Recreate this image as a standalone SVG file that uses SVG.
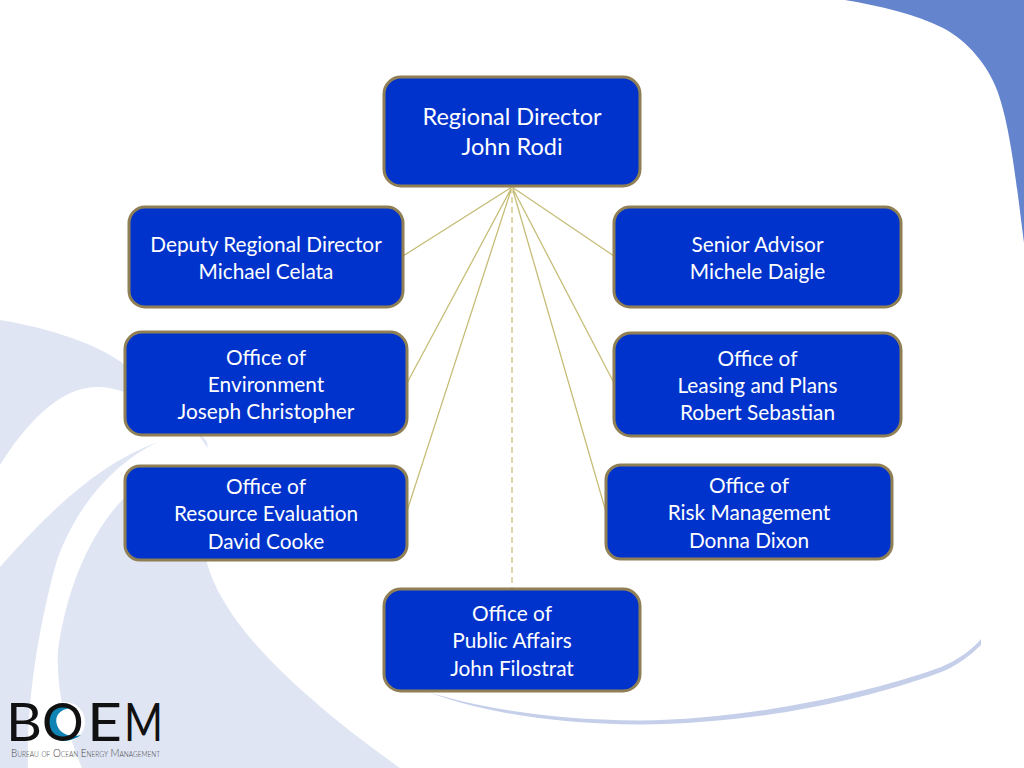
<svg xmlns="http://www.w3.org/2000/svg" width="1024" height="768" viewBox="0 0 1024 768">
<style>
.n{fill:#0033cc;stroke:#8f7f55;stroke-width:3}
.t{font-family:Lato,"Open Sans",sans-serif;font-size:20.8px;fill:#fff;text-anchor:middle}
.b{font-size:23.500px}
.c{stroke:#c6bd78;stroke-width:1.3;fill:none}
.d{stroke:#ddd7ab;stroke-width:2;stroke-dasharray:6 4;fill:none}
.l{font-family:Lato,"Liberation Sans",sans-serif;font-weight:400;font-size:52px;fill:#111}
</style>
<rect width="1024" height="768" fill="#fff"/>
<g id="background">
<path d="M845,0C880,6 915,14 943,28C968,41 988,66 997,90C1010,125 1016,180 1024,243V0Z" fill="#6484cd"/>
<path d="M0,320C50,328 100,345 125,365C160,385 190,420 207,442L210,466L207,563C222,620 290,690 400,768H0Z" fill="#dfe5f3"/>
<path d="M0,465C25,425 60,385 100,387C130,389 170,410 201,438L204,443L225,470V490L125,497C90,533 67,587 58,650C56,690 66,730 82,768H28C26,700 40,620 57,560C75,510 110,465 158,442C100,463 50,510 0,567Z" fill="#fff"/>
<path d="M428,692C470,705 540,720 640,720.500C740,720 860,696 940,667.500C958,660 972,650 981,639L981,645C970,656 955,667 940,672.500C860,702 750,724 640,724.500C540,724 470,708 428,692Z" fill="#c5cfea"/>
</g>
<g id="connectors">
<path class="c" d="M512,187L403,256M512,187L407,383M512,187L407,511M512,187L614,256M512,187L614,383M512,187L606,512"/>
<path class="d" d="M512,187V589"/>
</g>
<g id="regional-director"><rect class="n" x="384" y="77" width="256" height="109" rx="17"/><text class="t b" x="512" y="125">Regional Director</text><text class="t b" x="512" y="155">John Rodi</text></g>
<g id="deputy-director"><rect class="n" x="129" y="207" width="274" height="100" rx="16"/><text class="t" x="266" y="252">Deputy Regional Director</text><text class="t" x="266" y="279">Michael Celata</text></g>
<g id="senior-advisor"><rect class="n" x="614" y="207" width="287" height="100" rx="16"/><text class="t" x="757.500" y="252">Senior Advisor</text><text class="t" x="757.500" y="279">Michele Daigle</text></g>
<g id="office-environment"><rect class="n" x="125" y="332" width="282" height="103" rx="17"/><text class="t" x="266" y="365">Office of</text><text class="t" x="266" y="392">Environment</text><text class="t" x="266" y="419">Joseph Christopher</text></g>
<g id="office-leasing"><rect class="n" x="614" y="333" width="287" height="103" rx="17"/><text class="t" x="757.500" y="366">Office of</text><text class="t" x="757.500" y="393">Leasing and Plans</text><text class="t" x="757.500" y="420">Robert Sebastian</text></g>
<g id="office-resource"><rect class="n" x="125" y="466" width="282" height="94" rx="15"/><text class="t" x="266" y="494">Office of</text><text class="t" x="266" y="521">Resource Evaluation</text><text class="t" x="266" y="549">David Cooke</text></g>
<g id="office-risk"><rect class="n" x="606" y="465" width="286" height="94" rx="15"/><text class="t" x="749" y="493">Office of</text><text class="t" x="749" y="520">Risk Management</text><text class="t" x="749" y="548">Donna Dixon</text></g>
<g id="office-public"><rect class="n" x="384" y="589" width="256" height="102" rx="17"/><text class="t" x="512" y="621">Office of</text><text class="t" x="512" y="648">Public Affairs</text><text class="t" x="512" y="676">John Filostrat</text></g>
<g id="logo">
<circle cx="65" cy="722" r="20" fill="#fff"/>
<path d="M71,708C66,704 58,704 52,708C42,716 43,732 54,738C62,743 73,741 81,735C70,738 60,734 57,725C54,716 60,709 71,708Z" fill="#0f84b4"/>
<text class="l" y="741"><tspan x="6" textLength="36" lengthAdjust="spacingAndGlyphs">B</tspan><tspan x="42">O</tspan><tspan x="87" textLength="35" lengthAdjust="spacingAndGlyphs">E</tspan><tspan x="124" textLength="39" lengthAdjust="spacingAndGlyphs">M</tspan></text>
<text x="11" y="757" textLength="149" lengthAdjust="spacingAndGlyphs" font-family="Lato,'Liberation Sans',sans-serif" font-size="12" font-weight="300" style="font-variant:small-caps" fill="#444">Bureau of Ocean Energy Management</text>
</g>
</svg>
